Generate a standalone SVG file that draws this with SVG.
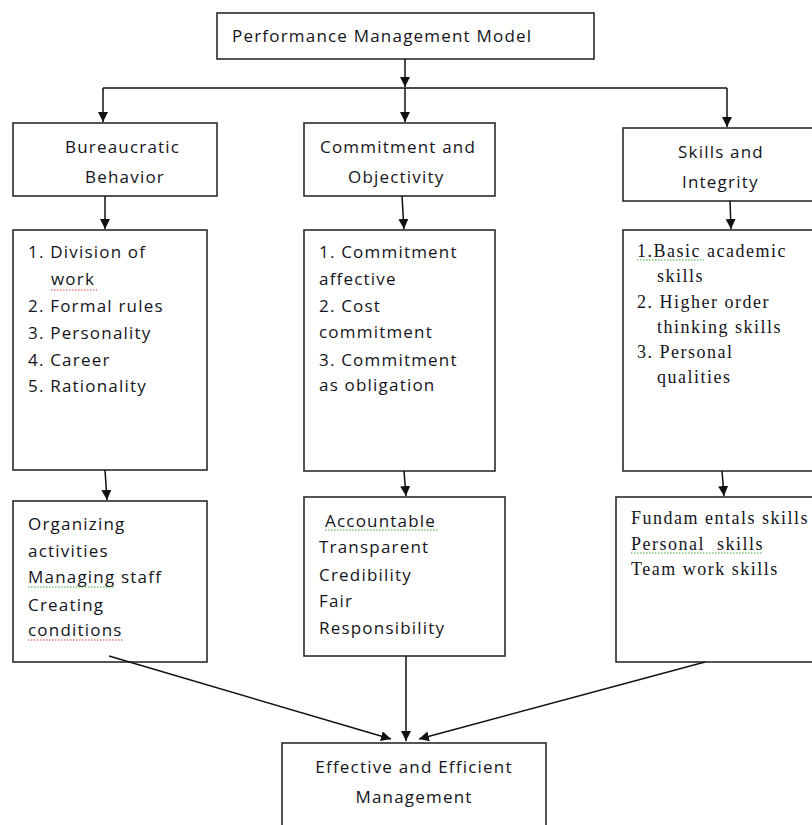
<svg xmlns="http://www.w3.org/2000/svg" width="812" height="825" viewBox="0 0 812 825">
<style>
.box{fill:#fff;stroke:#2b2b2b;stroke-width:1.6}
.s{font-family:"Open Sans","Liberation Sans",sans-serif;font-size:17px;letter-spacing:1.2px;fill:#141420}
.r{font-family:"Liberation Serif","Times New Roman",serif;font-size:18px;letter-spacing:1.5px;fill:#141420}
.c{stroke:#111;stroke-width:1.5;fill:none;marker-end:url(#ah)}
.ln{stroke:#111;stroke-width:1.5;fill:none}
.sqr{stroke:#e04040;stroke-width:1.2;stroke-dasharray:1.5 1.5;fill:none}
.sqg{stroke:#3aa83a;stroke-width:1.2;stroke-dasharray:1.5 1.5;fill:none}
</style>
<defs>
<marker id="ah" markerWidth="11" markerHeight="11" refX="10" refY="5" orient="auto" markerUnits="userSpaceOnUse">
<path d="M0,0 L10,5 L0,10 Z" fill="#111"/>
</marker>
</defs>
<rect width="812" height="825" fill="#fff"/>

<g id="top">
<rect class="box" x="217" y="13" width="377" height="46"/>
<text class="s" x="232" y="42" letter-spacing="1.4">Performance Management Model</text>
</g>

<g id="bureaucratic">
<rect class="box" x="13" y="123" width="204" height="73"/>
<text class="s" x="65" y="153">Bureaucratic</text>
<text class="s" x="85" y="183">Behavior</text>
</g>

<g id="commitment">
<rect class="box" x="304" y="123" width="191" height="73"/>
<text class="s" x="320" y="153">Commitment and</text>
<text class="s" x="348" y="183">Objectivity</text>
</g>

<g id="skills">
<rect class="box" x="623" y="128" width="200" height="73"/>
<text class="s" x="678" y="158">Skills and</text>
<text class="s" x="682" y="188">Integrity</text>
</g>

<g id="bureaucratic-list">
<rect class="box" x="13" y="230" width="194" height="240"/>
<text class="s" x="28" y="258">1. Division of</text>
<text class="s" x="51" y="285">work</text>
<text class="s" x="28" y="312">2. Formal rules</text>
<text class="s" x="28" y="339">3. Personality</text>
<text class="s" x="28" y="366">4. Career</text>
<text class="s" x="28" y="392">5. Rationality</text>
<path class="sqr" d="M51,290 L97,290"/>
</g>

<g id="commitment-list">
<rect class="box" x="304" y="230" width="191" height="241"/>
<text class="s" x="319" y="258">1. Commitment</text>
<text class="s" x="319" y="285">affective</text>
<text class="s" x="319" y="312">2. Cost</text>
<text class="s" x="319" y="338">commitment</text>
<text class="s" x="319" y="366">3. Commitment</text>
<text class="s" x="319" y="391">as obligation</text>
</g>

<g id="skills-list">
<rect class="box" x="623" y="230" width="200" height="241"/>
<text class="r" x="637" y="257" letter-spacing="2">1.Basic academic</text>
<text class="r" x="657" y="282">skills</text>
<text class="r" x="637" y="308">2. Higher order</text>
<text class="r" x="657" y="333">thinking skills</text>
<text class="r" x="637" y="358">3. Personal</text>
<text class="r" x="657" y="383">qualities</text>
<path class="sqg" d="M637,260 L704,260"/>
</g>

<g id="bureaucratic-out">
<rect class="box" x="13" y="501" width="194" height="161"/>
<text class="s" x="28" y="530">Organizing</text>
<text class="s" x="28" y="557">activities</text>
<text class="s" x="28" y="583">Managing staff</text>
<text class="s" x="28" y="611">Creating</text>
<text class="s" x="28" y="636">conditions</text>
<path class="sqg" d="M28,587 L115,587"/>
<path class="sqr" d="M28,640 L123,640"/>
</g>

<g id="commitment-out">
<rect class="box" x="304" y="497" width="201" height="159"/>
<text class="s" x="325" y="527">Accountable</text>
<text class="s" x="319" y="553">Transparent</text>
<text class="s" x="319" y="581">Credibility</text>
<text class="s" x="319" y="607">Fair</text>
<text class="s" x="319" y="634">Responsibility</text>
<path class="sqg" d="M325,530 L438,530"/>
</g>

<g id="skills-out">
<rect class="box" x="616" y="497" width="210" height="165"/>
<text class="r" x="631" y="524">Fundam entals skills</text>
<text class="r" x="631" y="550" xml:space="preserve">Personal  skills</text>
<text class="r" x="631" y="575">Team work skills</text>
<path class="sqg" d="M631,553 L763,553"/>
</g>

<g id="final">
<rect class="box" x="282" y="743" width="264" height="95"/>
<text class="s" x="414" y="773" text-anchor="middle" letter-spacing="0.8">Effective and Efficient</text>
<text class="s" x="414" y="803" text-anchor="middle" letter-spacing="0.8">Management</text>
</g>

<g id="connectors">
<path class="c" d="M405,59 L405,87"/>
<path class="ln" d="M103,88 L727,88"/>
<path class="c" d="M103,88 L103,122"/>
<path class="c" d="M405,88 L405,122"/>
<path class="c" d="M727,88 L727,127"/>
<path class="c" d="M105,196 L105,229"/>
<path class="c" d="M402,196 L404,229"/>
<path class="c" d="M730,201 L731,229"/>
<path class="c" d="M105,470 L107,500"/>
<path class="c" d="M404,471 L406,496"/>
<path class="c" d="M722,471 L724,496"/>
<path class="c" d="M109,656 L391,739"/>
<path class="c" d="M406,656 L406,741"/>
<path class="c" d="M705,662 L419,739"/>
</g>
</svg>
